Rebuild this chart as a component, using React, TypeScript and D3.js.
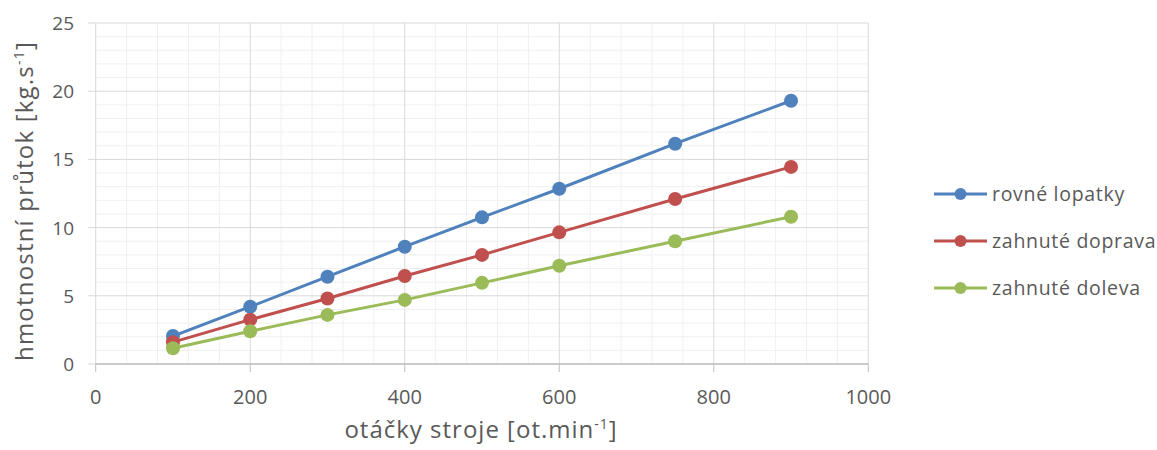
import * as d3 from 'd3';
import React from 'react';

// otáčky stroje [ot.min-1]
const rpm = [100, 200, 300, 400, 500, 600, 750, 900];

const seriesNames = ['rovné lopatky', 'zahnuté doprava', 'zahnuté doleva'];
const rovne = [2.05, 4.2, 6.4, 8.6, 10.75, 12.85, 16.15, 19.3];
const doprava = [1.6, 3.25, 4.8, 6.45, 8.0, 9.65, 12.1, 14.45];
const doleva = [1.15, 2.4, 3.6, 4.7, 5.95, 7.2, 9.0, 10.8];
const colours = ['#4f81bd', '#c0504d', '#9bbb59'];

const xTicks = [0, 200, 400, 600, 800, 1000];
const yTicks = [0, 5, 10, 15, 20, 25];

const font = "'Open Sans', 'Noto Sans', sans-serif";

export default function App() {
  const width = 1157;
  const height = 450;
  const x = d3.scaleLinear().domain([0, 1000]).range([95.7, 868.3]);
  const y = d3.scaleLinear().domain([0, 25]).range([364, 23]);

  const minorX = d3.range(0, 1001, 40).filter((v) => v % 200 !== 0);
  const minorY = d3.range(0, 26, 1).filter((v) => v % 5 !== 0);

  const data = [rovne, doprava, doleva];
  const line = d3
    .line<number>()
    .x((_, i) => x(rpm[i]))
    .y((d) => y(d));

  return (
    <svg width={width} height={height} style={{ position: 'absolute', left: 0, top: 0 }}>
      <rect width={width} height={height} fill="#fff" />
      {/* minor grid */}
      {minorX.map((v) => (
        <line key={'mx' + v} x1={x(v)} x2={x(v)} y1={y(25)} y2={y(0)} stroke="#f0f0f0" strokeWidth={1} />
      ))}
      {minorY.map((v) => (
        <line key={'my' + v} x1={x(0)} x2={x(1000)} y1={y(v)} y2={y(v)} stroke="#f0f0f0" strokeWidth={1} />
      ))}
      {/* major grid */}
      {xTicks.map((v) => (
        <line key={'gx' + v} x1={x(v)} x2={x(v)} y1={y(25)} y2={y(0)} stroke="#d9d9d9" strokeWidth={1} />
      ))}
      {yTicks.map((v) => (
        <line key={'gy' + v} x1={x(0) - 8} x2={x(1000)} y1={y(v)} y2={y(v)} stroke="#d9d9d9" strokeWidth={1} />
      ))}
      {/* x axis */}
      <line x1={x(0)} x2={x(1000)} y1={y(0)} y2={y(0)} stroke="#bfbfbf" strokeWidth={1.3} />
      {xTicks.map((v) => (
        <line key={'tx' + v} x1={x(v)} x2={x(v)} y1={y(0)} y2={y(0) + 8} stroke="#bfbfbf" strokeWidth={1} />
      ))}
      {xTicks.map((v) => (
        <text key={'lx' + v} x={x(v)} y={y(0) + 40} textAnchor="middle" fontFamily={font} fontSize={20} fill="#595959">
          {v}
        </text>
      ))}
      {yTicks.map((v) => (
        <text key={'ly' + v} x={74} y={y(v) + 7} textAnchor="end" fontFamily={font} fontSize={19} fill="#595959">
          {v}
        </text>
      ))}
      {/* axis titles */}
      <text x={481} y={438} textAnchor="middle" fontFamily={font} fontSize={24} letterSpacing={1} fill="#595959">
        otáčky stroje [ot.min
        <tspan dy={-9} fontSize={14}>-1</tspan>
        <tspan dy={9}>]</tspan>
      </text>
      <text
        transform="translate(33,201) rotate(-90)"
        textAnchor="middle"
        fontFamily={font}
        fontSize={24}
        letterSpacing={1.2}
        fill="#595959"
      >
        hmotnostní průtok [kg.s
        <tspan dy={-9} fontSize={14}>-1</tspan>
        <tspan dy={9}>]</tspan>
      </text>
      {/* series */}
      {data.map((s, k) => (
        <g key={'s' + k}>
          <path d={line(s) || ''} fill="none" stroke={colours[k]} strokeWidth={3} strokeLinejoin="round" />
          {s.map((v, i) => (
            <circle key={i} cx={x(rpm[i])} cy={y(v)} r={7} fill={colours[k]} />
          ))}
        </g>
      ))}
      {/* legend */}
      {seriesNames.map((name, k) => {
        const ly = 194 + k * 47;
        return (
          <g key={'lg' + k}>
            <line x1={934} x2={987} y1={ly} y2={ly} stroke={colours[k]} strokeWidth={3} />
            <circle cx={960.5} cy={ly} r={6} fill={colours[k]} />
            <text x={992} y={ly + 7} fontFamily={font} fontSize={19.5} letterSpacing={0.7} fill="#595959">
              {name}
            </text>
          </g>
        );
      })}
    </svg>
  );
}
